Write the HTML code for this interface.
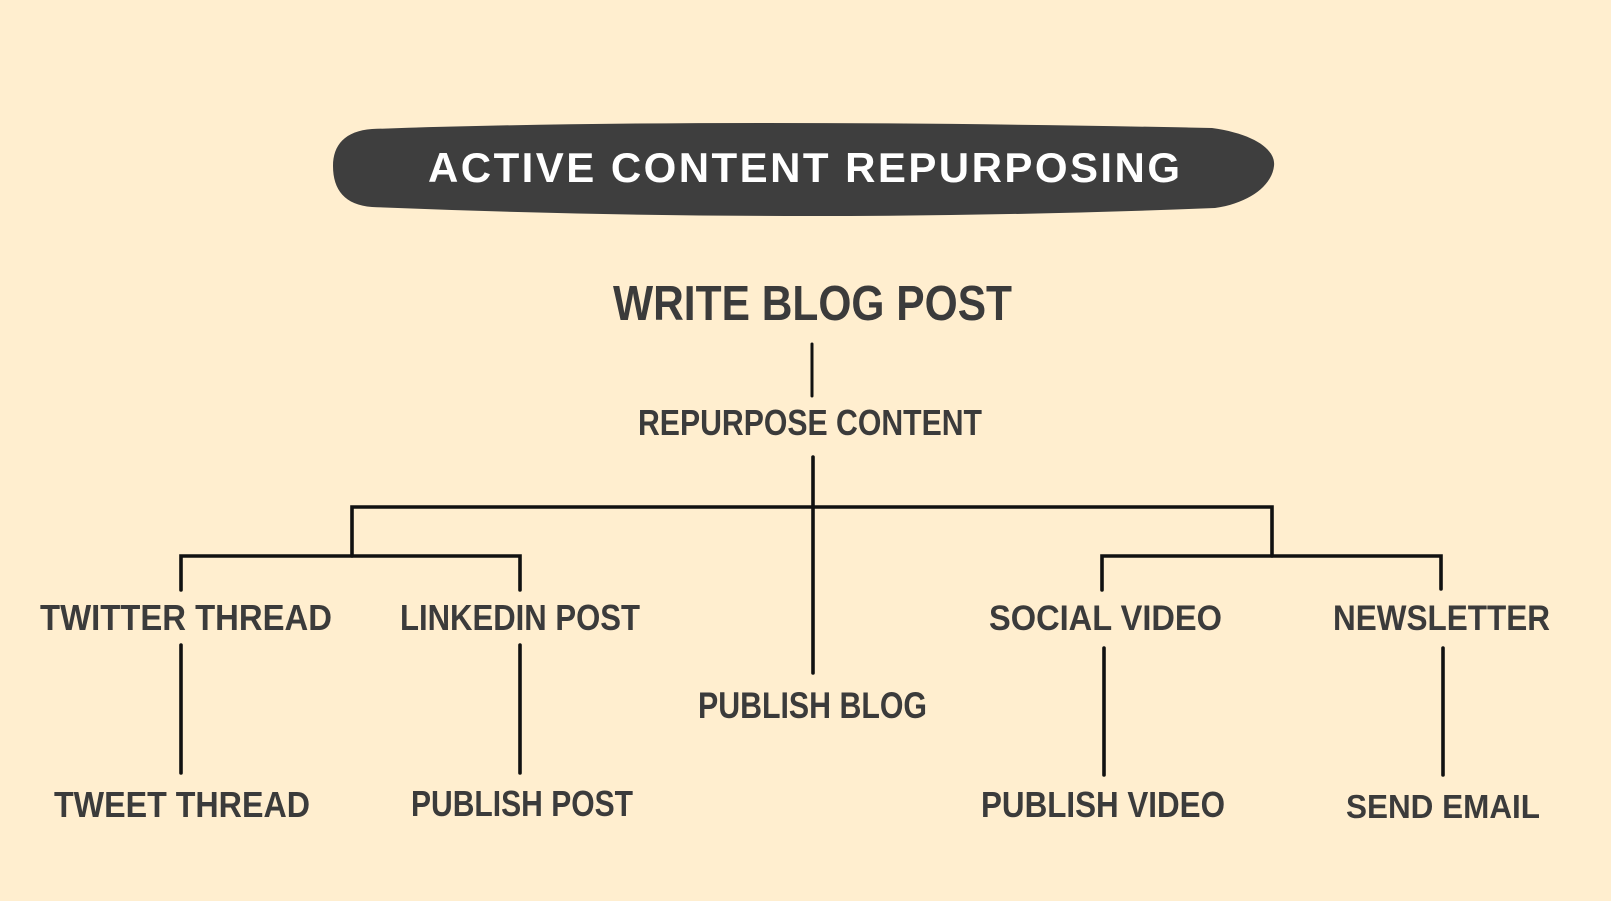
<!DOCTYPE html>
<html>
<head>
<meta charset="utf-8">
<style>
  html,body{margin:0;padding:0;background:#FFEECF;}
  svg{display:block;}
  text{font-family:"Liberation Sans",sans-serif;font-weight:bold;fill:#3b3b3b;}
</style>
</head>
<body>
<svg width="1611" height="901" viewBox="0 0 1611 901" xmlns="http://www.w3.org/2000/svg">
  <rect x="0" y="0" width="1611" height="901" fill="#FFEECF"/>
  <!-- title pill -->
  <path d="M 372,129 Q 700,117.5 1212,128 C 1255,134 1276,150 1274,166 C 1272,185 1250,203 1215,208 Q 800,224.5 372,207 C 345,205 333,190 333,166 C 333,145 345,131 372,129 Z" fill="#3e3e3e"/>
  <text x="428" y="182" font-size="42" textLength="752" lengthAdjust="spacing" style="fill:#ffffff">ACTIVE CONTENT REPURPOSING</text>

  <!-- connectors -->
  <g stroke="#111111" stroke-width="3.6" fill="none" stroke-linecap="round" stroke-linejoin="miter">
    <line x1="812" y1="344" x2="812" y2="396" stroke-width="3"/>
    <line x1="813" y1="457" x2="813" y2="673"/>
    <polyline points="352,556 352,507 1272,507 1272,556"/>
    <polyline points="181,590 181,556 520,556 520,590"/>
    <line x1="181" y1="645" x2="181" y2="773"/>
    <line x1="520" y1="645" x2="520" y2="773"/>
    <polyline points="1102,590 1102,556 1441,556 1441,589"/>
    <line x1="1104" y1="648" x2="1104" y2="775"/>
    <line x1="1443" y1="648" x2="1443" y2="775"/>
  </g>

  <!-- labels -->
  <text x="613" y="320" font-size="49" textLength="399" lengthAdjust="spacingAndGlyphs">WRITE BLOG POST</text>
  <text x="638" y="435" font-size="36" textLength="344" lengthAdjust="spacingAndGlyphs">REPURPOSE CONTENT</text>

  <text x="40" y="630" font-size="36" textLength="292" lengthAdjust="spacingAndGlyphs">TWITTER THREAD</text>
  <text x="400" y="630" font-size="36" textLength="240" lengthAdjust="spacingAndGlyphs">LINKEDIN POST</text>
  <text x="989" y="630" font-size="35" textLength="233" lengthAdjust="spacingAndGlyphs">SOCIAL VIDEO</text>
  <text x="1333" y="630" font-size="35" textLength="217" lengthAdjust="spacingAndGlyphs">NEWSLETTER</text>

  <text x="698" y="718" font-size="37" textLength="229" lengthAdjust="spacingAndGlyphs">PUBLISH BLOG</text>

  <text x="54" y="817" font-size="36" textLength="256" lengthAdjust="spacingAndGlyphs">TWEET THREAD</text>
  <text x="411" y="816" font-size="36" textLength="222" lengthAdjust="spacingAndGlyphs">PUBLISH POST</text>
  <text x="981" y="817" font-size="36" textLength="244" lengthAdjust="spacingAndGlyphs">PUBLISH VIDEO</text>
  <text x="1346" y="818" font-size="33" textLength="194" lengthAdjust="spacingAndGlyphs">SEND EMAIL</text>
</svg>
</body>
</html>
